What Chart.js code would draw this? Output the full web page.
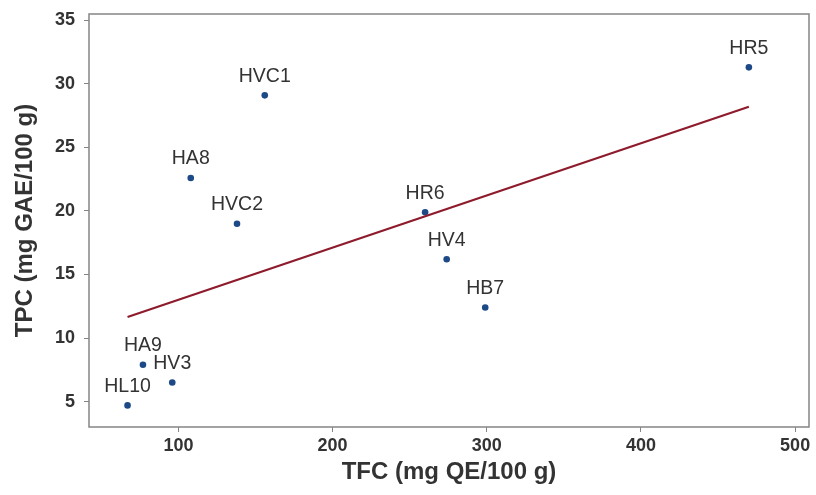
<!DOCTYPE html>
<html>
<head>
<meta charset="utf-8">
<script src="https://cdn.jsdelivr.net/npm/chart.js@4/dist/chart.umd.min.js"></script>
<style>
  html, body { margin: 0; padding: 0; background: #ffffff; }
  #wrap { width: 816px; height: 495px; }
</style>
</head>
<body>
<div id="wrap"><canvas id="c" width="816" height="495"></canvas></div>
<script>
// Sample codes with total flavonoid (TFC) and total phenolic (TPC) contents
const sampleNames = ['HL10', 'HA9', 'HV3', 'HA8', 'HVC2', 'HVC1', 'HR6', 'HV4', 'HB7', 'HR5'];
const tfcValues = [67, 77, 96, 108, 138, 156, 260, 274, 299, 470];
const tpcValues = [4.7, 7.9, 6.5, 22.6, 19.0, 29.1, 19.9, 16.2, 12.4, 31.3];

// Linear fit drawn across the sample range
const fitX = [67, 470];
const fitY = [11.65, 28.2];

// Axis ticks
const xTicks = [100, 200, 300, 400, 500];
const yTicks = [5, 10, 15, 20, 25, 30, 35];

const FONT = '"Liberation Sans", Arial, sans-serif';
const TEXT = '#333333';
const AXIS = '#858585';

const points = tfcValues.map((x, i) => ({ x: x, y: tpcValues[i] }));
const fitLine = fitX.map((x, i) => ({ x: x, y: fitY[i] }));

// Sample code written above each point, plus the box around the plot
const annotate = {
  id: 'annotate',
  afterDatasetsDraw(chart) {
    const ctx = chart.ctx;
    const meta = chart.getDatasetMeta(1);
    ctx.save();
    ctx.font = '19.5px ' + FONT;
    ctx.fillStyle = TEXT;
    ctx.textAlign = 'center';
    ctx.textBaseline = 'middle';
    meta.data.forEach((el, i) => {
      ctx.fillText(sampleNames[i], el.x, el.y - 19);
    });
    const a = chart.chartArea;
    ctx.strokeStyle = AXIS;
    ctx.lineWidth = 1.5;
    ctx.strokeRect(a.left, a.top, a.right - a.left, a.bottom - a.top);
    ctx.restore();
  }
};

new Chart(document.getElementById('c'), {
  type: 'scatter',
  data: {
    datasets: [
      {
        type: 'line',
        label: 'Fit',
        data: fitLine,
        borderColor: '#8e1b2c',
        borderWidth: 2.2,
        pointRadius: 0,
        fill: false,
        tension: 0
      },
      {
        label: 'Samples',
        data: points,
        backgroundColor: '#1d4a87',
        borderColor: '#1d4a87',
        pointRadius: 3.3,
        borderWidth: 0
      }
    ]
  },
  options: {
    responsive: false,
    animation: false,
    devicePixelRatio: 1,
    layout: { padding: { top: 14, right: 7, left: 0, bottom: 0 } },
    plugins: {
      legend: { display: false },
      tooltip: { enabled: false }
    },
    scales: {
      x: {
        type: 'linear',
        min: 42,
        max: 509,
        afterBuildTicks(scale) { scale.ticks = xTicks.map(v => ({ value: v })); },
        afterFit(scale) {
          scale.height = 68;
          scale.paddingLeft = 0;
          scale.paddingRight = 0;
        },
        border: { display: false },
        grid: { drawOnChartArea: false, drawTicks: true, tickLength: 5, color: AXIS, lineWidth: 1 },
        ticks: { color: TEXT, font: { family: FONT, size: 18, weight: 'bold' }, padding: 3, maxRotation: 0 },
        title: {
          display: true,
          text: 'TFC (mg QE/100 g)',
          color: TEXT,
          font: { family: FONT, size: 24, weight: 'bold', lineHeight: 1 },
          padding: { top: 0, bottom: 11 }
        }
      },
      y: {
        type: 'linear',
        min: 3,
        max: 35.5,
        afterBuildTicks(scale) { scale.ticks = yTicks.map(v => ({ value: v })); },
        afterFit(scale) {
          scale.width = 89;
          scale.paddingTop = 0;
          scale.paddingBottom = 0;
        },
        border: { display: false },
        grid: { drawOnChartArea: false, drawTicks: true, tickLength: 5, color: AXIS, lineWidth: 1 },
        ticks: { color: TEXT, font: { family: FONT, size: 18, weight: 'bold' }, padding: 9 },
        title: {
          display: true,
          text: 'TPC (mg GAE/100 g)',
          color: TEXT,
          font: { family: FONT, size: 24, weight: 'bold', lineHeight: 1 },
          padding: { top: 13, bottom: 0 }
        }
      }
    }
  },
  plugins: [annotate]
});
</script>
</body>
</html>
